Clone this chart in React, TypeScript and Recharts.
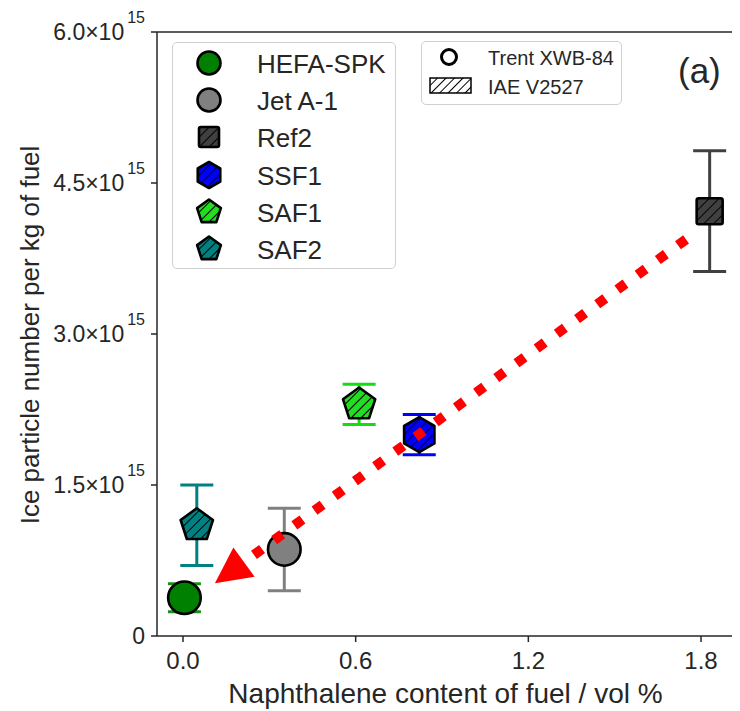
import React from 'react';
import { ScatterChart, Scatter, XAxis, YAxis, ErrorBar, ReferenceLine } from 'recharts';

// ---------- data ----------
const fuels = ['HEFA-SPK', 'Jet A-1', 'Ref2', 'SSF1', 'SAF1', 'SAF2'];
const naphthaleneVolPct = [0.005, 0.352, 1.83, 0.821, 0.612, 0.048];
const iceNumberE15 = [0.38, 0.86, 4.22, 2.0, 2.3, 1.1];
const iceErrorE15 = [0.14, 0.41, 0.6, 0.2, 0.2, 0.4];
const engines = ['Trent XWB-84', 'IAE V2527'];
const xTicks = [0, 0.6, 1.2, 1.8];
const yTicks = [0, 1.5, 3.0, 4.5, 6.0];
const xDomain = [-0.0903, 1.9146];
const yDomain = [0, 6];
const trendStart = { x: 1.748, y: 3.94 };
const trendTip = { x: 0.111, y: 0.523 };
const panelLabel = '(a)';
const xLabel = 'Naphthalene content of fuel / vol %';
const yLabel = 'Ice particle number per kg of fuel';

// ---------- styles ----------
const FONT = '"Liberation Sans", Arial, Helvetica, sans-serif';
const INK = '#262626';
type Shape = 'circle' | 'square' | 'hexagon' | 'pentagon';
const fuelStyles: { shape: Shape; fill: string; err: string; hatch: boolean }[] = [
  { shape: 'circle', fill: '#008000', err: '#1a8f1a', hatch: false },
  { shape: 'circle', fill: '#808080', err: '#808080', hatch: false },
  { shape: 'square', fill: '#404040', err: '#404040', hatch: true },
  { shape: 'hexagon', fill: '#0000ff', err: '#0000ff', hatch: true },
  { shape: 'pentagon', fill: '#22dd22', err: '#11dd11', hatch: true },
  { shape: 'pentagon', fill: '#008080', err: '#008080', hatch: true },
];
const markerSize: Record<Shape, number> = { circle: 16.3, square: 13, hexagon: 17.5, pentagon: 17 };
const legendSize: Record<Shape, number> = { circle: 11.5, square: 10, hexagon: 13, pentagon: 12.5 };

const polyPoints = (n: number, cx: number, cy: number, r: number) =>
  Array.from({ length: n }, (_, k) => {
    const a = ((-90 + (360 / n) * k) * Math.PI) / 180;
    return `${cx + r * Math.cos(a)},${cy + r * Math.sin(a)}`;
  }).join(' ');

function shapeEl(shape: Shape, cx: number, cy: number, s: number, props: any) {
  if (shape === 'circle') return <circle cx={cx} cy={cy} r={s} {...props} />;
  if (shape === 'square') return <rect x={cx - s} y={cy - s} width={2 * s} height={2 * s} rx={2} {...props} />;
  if (shape === 'hexagon') return <polygon points={polyPoints(6, cx, cy, s)} {...props} />;
  return <polygon points={polyPoints(5, cx, cy, s)} {...props} />;
}

function HatchDef({ id }: { id: string }) {
  return (
    <defs>
      <pattern id={id} patternUnits="userSpaceOnUse" width={7} height={7} patternTransform="rotate(45)">
        <line x1={0} y1={0} x2={0} y2={7} stroke="#000" strokeWidth={2} />
      </pattern>
    </defs>
  );
}

function Marker({ idx, cx, cy, s, prefix }: { idx: number; cx: number; cy: number; s: number; prefix: string }) {
  const st = fuelStyles[idx];
  const pid = `${prefix}-hatch-${idx}`;
  return (
    <g>
      {st.hatch && <HatchDef id={pid} />}
      {shapeEl(st.shape, cx, cy, s, { fill: st.fill, stroke: 'none' })}
      {st.hatch && shapeEl(st.shape, cx, cy, s, { fill: `url(#${pid})`, stroke: 'none' })}
      {shapeEl(st.shape, cx, cy, s, { fill: 'none', stroke: '#000', strokeWidth: 2.6, strokeLinejoin: 'round' })}
    </g>
  );
}

const YTick = (props: any) => {
  const { x, y, payload } = props;
  const v = payload.value as number;
  return (
    <text x={x} y={y} dy={8} textAnchor="end" fontSize={23} fill={INK} fontFamily={FONT}>
      {v === 0 ? (
        '0'
      ) : (
        <>
          <tspan>{v.toFixed(1)}×10</tspan>
          <tspan dx={3} dy={-17} fontSize={16}>15</tspan>
        </>
      )}
    </text>
  );
};

const XTick = (props: any) => {
  const { x, y, payload } = props;
  return (
    <text x={x} y={y} dy={21} textAnchor="middle" fontSize={24} fill={INK} fontFamily={FONT}>
      {(payload.value as number).toFixed(1)}
    </text>
  );
};

const ArrowShape = (props: any) => {
  const { x1, y1, x2, y2 } = props;
  const dx = x2 - x1;
  const dy = y2 - y1;
  const len = Math.hypot(dx, dy);
  const ux = dx / len;
  const uy = dy / len;
  const headLen = 36;
  const headHalf = 18;
  const bx = x2 - ux * headLen;
  const by = y2 - uy * headLen;
  return (
    <g>
      <line x1={x1} y1={y1} x2={bx + ux * 2} y2={by + uy * 2} stroke="#ff0000" strokeWidth={10} strokeDasharray="10 15" />
      <polygon
        points={`${x2},${y2} ${bx - uy * headHalf},${by + ux * headHalf} ${bx + uy * headHalf},${by - ux * headHalf}`}
        fill="#ff0000"
      />
    </g>
  );
};

const W = 732;
const H = 703;

export default function App() {
  const seriesData = fuels.map((name, i) => [
    { x: naphthaleneVolPct[i], y: iceNumberE15[i], err: iceErrorE15[i], name },
  ]);
  return (
    <div style={{ position: 'relative', width: W, height: H, fontFamily: FONT }}>
      <ScatterChart width={W} height={H} margin={{ top: 24, right: 6, bottom: 15, left: 9 }}>
        <XAxis
          xAxisId="b"
          type="number"
          dataKey="x"
          domain={xDomain}
          ticks={xTicks}
          allowDataOverflow
          height={60}
          tickSize={6}
          tickMargin={6}
          tick={<XTick />}
          axisLine={{ stroke: INK, strokeWidth: 1.5 }}
          tickLine={{ stroke: INK, strokeWidth: 1.5 }}
          label={(p: any) => {
            const vb = p.viewBox;
            return (
              <text x={vb.x + vb.width / 2} y={vb.y + 67} textAnchor="middle" fontSize={28} fill={INK} fontFamily={FONT}>
                {xLabel}
              </text>
            );
          }}
        />
        <YAxis
          yAxisId="l"
          type="number"
          dataKey="y"
          domain={yDomain}
          ticks={yTicks}
          allowDataOverflow
          width={140}
          tickSize={6}
          tickMargin={6}
          tick={<YTick />}
          axisLine={{ stroke: INK, strokeWidth: 1.5 }}
          tickLine={{ stroke: INK, strokeWidth: 1.5 }}
          label={() => {
            const cy = 327;
            const cx = 31;
            return (
              <text x={cx} y={cy} transform={`rotate(-90 ${cx} ${cy})`} textAnchor="middle" fontSize={26} fill={INK} fontFamily={FONT}>
                {yLabel}
              </text>
            );
          }}
        />
        {/* frame: top and right spines */}
        <ReferenceLine xAxisId="b" yAxisId="l" y={yDomain[1]} stroke={INK} strokeWidth={1.5} ifOverflow="visible" />
        <ReferenceLine xAxisId="b" yAxisId="l" x={xDomain[1]} stroke={INK} strokeWidth={1.5} ifOverflow="visible" />
        {fuels.map((name, i) => (
          <Scatter
            key={name}
            name={name}
            xAxisId="b"
            yAxisId="l"
            data={seriesData[i]}
            isAnimationActive={false}
            shape={(p: any) => <Marker idx={i} cx={p.cx} cy={p.cy} s={markerSize[fuelStyles[i].shape]} prefix="plot" />}
          >
            <ErrorBar dataKey="err" direction="y" width={16.5} strokeWidth={3} stroke={fuelStyles[i].err} isAnimationActive={false} />
          </Scatter>
        ))}
        <ReferenceLine
          xAxisId="b"
          yAxisId="l"
          segment={[trendStart, trendTip]}
          shape={ArrowShape}
          ifOverflow="visible"
          zIndex={700}
        />
      </ScatterChart>

      {/* fuel legend */}
      <div
        style={{
          position: 'absolute', left: 164, top: 34, width: 224, height: 227, boxSizing: 'border-box',
          border: '1.5px solid #d0d0d0', borderRadius: 5, background: 'rgba(255,255,255,0.85)',
        }}
      >
        {fuels.map((name, i) => (
          <div key={name} style={{ position: 'absolute', left: 0, top: i * 37.2, height: 40, width: 222 }}>
            <svg width={60} height={40} style={{ position: 'absolute', left: 6, top: 0 }}>
              <Marker idx={i} cx={30} cy={20} s={legendSize[fuelStyles[i].shape]} prefix="leg" />
            </svg>
            <span style={{ position: 'absolute', left: 84, top: 21, transform: 'translateY(-50%)', fontSize: 26, color: INK, lineHeight: 1, whiteSpace: 'nowrap' }}>
              {name}
            </span>
          </div>
        ))}
      </div>

      {/* engine legend */}
      <div
        style={{
          position: 'absolute', left: 413, top: 33, width: 201, height: 64, boxSizing: 'border-box',
          border: '1.5px solid #d0d0d0', borderRadius: 5, background: 'rgba(255,255,255,0.85)',
        }}
      >
        <svg width={60} height={64} style={{ position: 'absolute', left: 0, top: 0 }}>
          <defs>
            <pattern id="eng-hatch" patternUnits="userSpaceOnUse" width={6} height={6} patternTransform="rotate(45)">
              <line x1={0} y1={0} x2={0} y2={6} stroke="#000" strokeWidth={2} />
            </pattern>
          </defs>
          <circle cx={27} cy={15} r={7.5} fill="none" stroke="#000" strokeWidth={3} />
          <rect x={8} y={36} width={41} height={15} fill="url(#eng-hatch)" stroke="#000" strokeWidth={1.5} />
        </svg>
        {engines.map((e, i) => (
          <span key={e} style={{ position: 'absolute', left: 66, top: 16 + i * 28.5, transform: 'translateY(-50%)', fontSize: 20, color: INK, lineHeight: 1, whiteSpace: 'nowrap' }}>
            {e}
          </span>
        ))}
      </div>

      <div style={{ position: 'absolute', left: 670, top: 62, transform: 'translateY(-50%)', fontSize: 35, color: INK, lineHeight: 1 }}>
        {panelLabel}
      </div>
    </div>
  );
}
